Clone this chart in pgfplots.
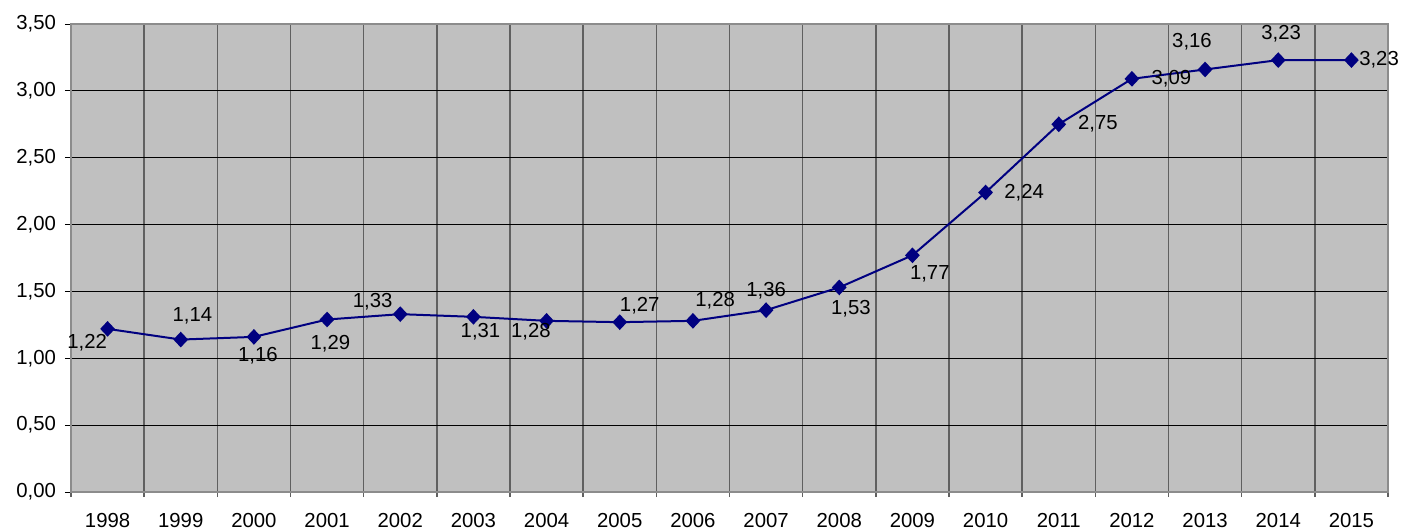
\documentclass[border=0pt]{standalone}
\usepackage{fontspec}
\setmainfont{Liberation Sans}
\usepackage{pgfplots}
\usepackage{pgfplotstable}
\pgfplotsset{compat=1.18}
\definecolor{bgc}{RGB}{192,192,192}
\definecolor{navyc}{RGB}{0,0,128}
\definecolor{vgrid}{RGB}{96,96,96}
\definecolor{bord}{RGB}{140,140,140}
% x y dx dy  (dx, dy: label offset in image pixels, dy downward)
\pgfplotstableread{
x  y    dx     dy
0  1.22 -20.5  20.0
1  1.14  11.7 -18.3
2  1.16   4.0  25.0
3  1.29   3.3  29.7
4  1.33 -27.6  -6.6
5  1.31   7.1  20.6
6  1.28 -15.7  16.3
7  1.27  20.0 -10.7
8  1.28  22.3 -14.0
9  1.36   0.0 -13.3
10 1.53  11.6  26.6
11 1.77  17.4  24.0
12 2.24  38.5   6.3
13 2.75  39.1   5.3
14 3.09  39.5   5.3
15 3.16 -13.1 -21.7
16 3.23   2.9 -20.3
17 3.23  27.6   5.4
}\datatable
\begin{document}
\begin{tikzpicture}
\begin{axis}[
  scale only axis,
  width=658.5bp, height=234bp,
  xmin=-0.5, xmax=17.5,
  ymin=0, ymax=3.5,
  clip=false,
  axis background/.style={fill=bgc},
  axis line style={draw=bord, line width=0.9bp},
  xtick={0,...,17},
  xticklabels={1998,1999,2000,2001,2002,2003,2004,2005,2006,2007,2008,2009,2010,2011,2012,2013,2014,2015},
  minor xtick={-0.5,0.5,...,17.5},
  major x tick style={draw=none},
  minor x tick style={draw=vgrid, line width=0.8bp},
  xminorgrids=true, xmajorgrids=false,
  ymajorgrids=true,
  minor grid style={draw=vgrid, line width=0.8bp},
  major grid style={draw=black, line width=0.5bp},
  ytick={0,0.5,...,3.5},
  y tick style={draw=black, line width=0.5bp},
  tick align=outside,
  tick pos=left,
  major tick length=3bp,
  minor tick length=2.5bp,
  /pgf/number format/.cd, use comma, fixed, fixed zerofill, precision=2, assume math mode=true,
  /pgfplots/.cd,
  tick label style={font=\fontsize{10.2}{12}\selectfont, text=black},
  xticklabel style={anchor=base, yshift=-14.5bp},
  yticklabel style={anchor=east, xshift=-1bp},
]
\coordinate (bl) at (rel axis cs:0,0);
\coordinate (tr) at (rel axis cs:1,1);
\addplot[color=navyc, line width=1bp, mark=diamond*, mark size=3.2bp,
  mark options={fill=navyc, draw=navyc, xscale=1.25},
  point meta=y,
  visualization depends on={\thisrow{dx} \as \dx},
  visualization depends on={\thisrow{dy} \as \dy},
  nodes near coords={\pgfmathprintnumber[use comma, fixed, fixed zerofill, precision=2, assume math mode=true]{\pgfplotspointmeta}},
  every node near coord/.append style={anchor=base, inner sep=0pt, xshift=\dx*0.5bp, yshift=-\dy*0.5bp, font=\fontsize{10.2}{12}\selectfont, text=black},
] table[x=x, y=y] {\datatable};
\end{axis}
\pgfresetboundingbox
\path[use as bounding box] ([xshift=-35.5bp, yshift=-19bp]bl) rectangle ([xshift=8.5bp, yshift=12bp]tr);
\end{tikzpicture}
\end{document}
